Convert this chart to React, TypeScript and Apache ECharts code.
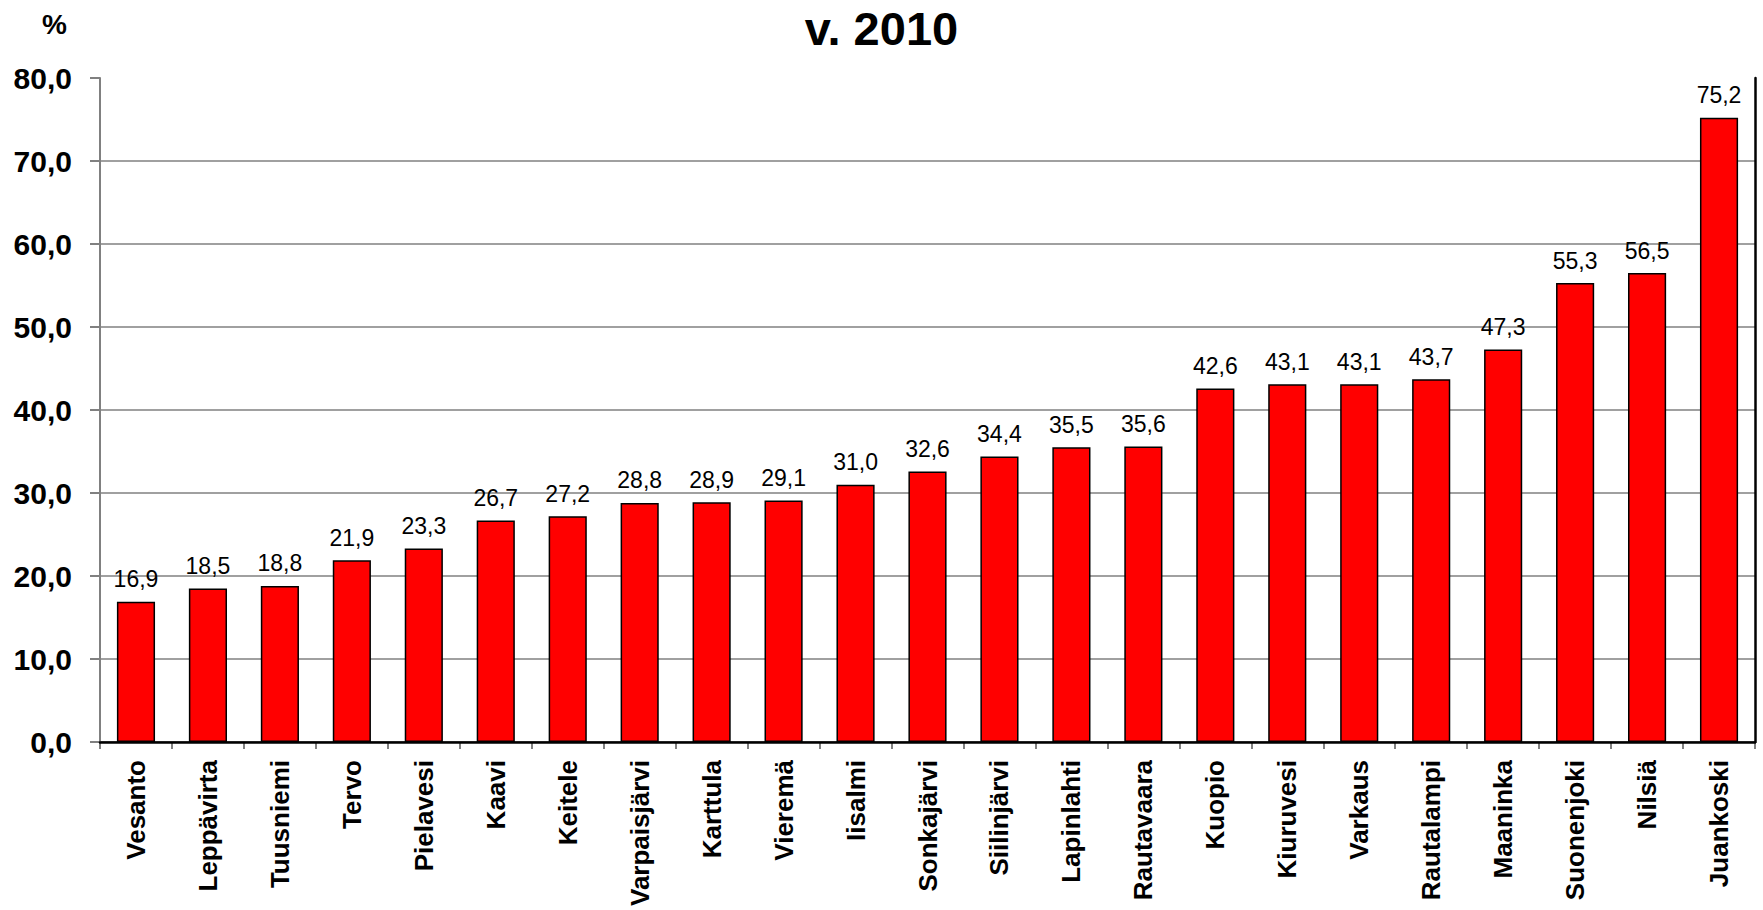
import React, { useEffect, useRef } from "react";
import * as echarts from "echarts";

const categories = [
  "Vesanto", "Leppävirta", "Tuusniemi", "Tervo", "Pielavesi", "Kaavi", "Keitele",
  "Varpaisjärvi", "Karttula", "Vieremä", "Iisalmi", "Sonkajärvi", "Siilinjärvi",
  "Lapinlahti", "Rautavaara", "Kuopio", "Kiuruvesi", "Varkaus", "Rautalampi",
  "Maaninka", "Suonenjoki", "Nilsiä", "Juankoski",
];
const values = [
  16.9, 18.5, 18.8, 21.9, 23.3, 26.7, 27.2, 28.8, 28.9, 29.1, 31.0, 32.6, 34.4,
  35.5, 35.6, 42.6, 43.1, 43.1, 43.7, 47.3, 55.3, 56.5, 75.2,
];
const titleText = "v. 2010";
const unitText = "%";

const FONT = "'Liberation Sans', Arial, sans-serif";
const fmt = (v: number) => v.toFixed(1).replace(".", ",");

export default function App() {
  const ref = useRef<HTMLDivElement>(null);
  useEffect(() => {
    document.body.style.margin = "0";
    const chart = echarts.init(ref.current!, null, { renderer: "svg" });
    chart.setOption({
      animation: false,
      backgroundColor: "#ffffff",
      title: {
        text: titleText,
        left: "center",
        top: 0,
        textStyle: { fontFamily: FONT, fontSize: 47, fontWeight: "bold", color: "#000" },
      },
      grid: { left: 100, right: 8, top: 78, bottom: 168, containLabel: false },
      xAxis: [
        {
          type: "category",
          data: categories,
          axisLine: { lineStyle: { color: "#808080", width: 2 } },
          axisTick: { show: true, length: 7, lineStyle: { color: "#808080", width: 2 } },
          axisLabel: {
            rotate: 90,
            interval: 0,
            margin: 18,
            fontFamily: FONT,
            fontSize: 26,
            fontWeight: "bold",
            color: "#000",
          },
        },
        {
          type: "category",
          position: "top",
          data: categories,
          axisLine: { show: true, lineStyle: { color: "#000", width: 2.5 } },
          axisTick: { show: false },
          axisLabel: { show: false },
          z: 10,
        },
      ],
      yAxis: [
        {
          type: "value",
          min: 0,
          max: 80,
          interval: 10,
          name: unitText,
          nameLocation: "end",
          nameGap: 40,
          nameTextStyle: {
            fontFamily: FONT,
            fontSize: 28,
            fontWeight: "bold",
            color: "#000",
            align: "right",
            padding: [0, 33, 0, 0],
          },
          axisLine: { show: true, lineStyle: { color: "#808080", width: 2 } },
          axisTick: { show: true, length: 10, lineStyle: { color: "#808080", width: 2 } },
          splitLine: {
            show: true,
            showMinLine: false,
            showMaxLine: false,
            lineStyle: { color: "#808080", width: 1.5 },
          },
          axisLabel: {
            margin: 28,
            formatter: (v: number) => fmt(v),
            fontFamily: FONT,
            fontSize: 30,
            fontWeight: "bold",
            color: "#000",
          },
        },
        {
          type: "value",
          position: "right",
          min: 0,
          max: 80,
          interval: 10,
          axisLine: { show: true, lineStyle: { color: "#000", width: 2.5 } },
          axisTick: { show: false },
          axisLabel: { show: false },
          splitLine: { show: false },
          z: 10,
        },
      ],
      series: [
        {
          type: "bar",
          data: values,
          barWidth: "53%",
          itemStyle: { color: "#ff0000", borderColor: "#000", borderWidth: 1.5 },
          label: {
            show: true,
            position: "top",
            distance: 11,
            formatter: (p: any) => fmt(p.value),
            fontFamily: FONT,
            fontSize: 23,
            color: "#000",
          },
        },
      ],
    });
    return () => chart.dispose();
  }, []);
  return <div ref={ref} style={{ width: 1763, height: 910 }} />;
}
